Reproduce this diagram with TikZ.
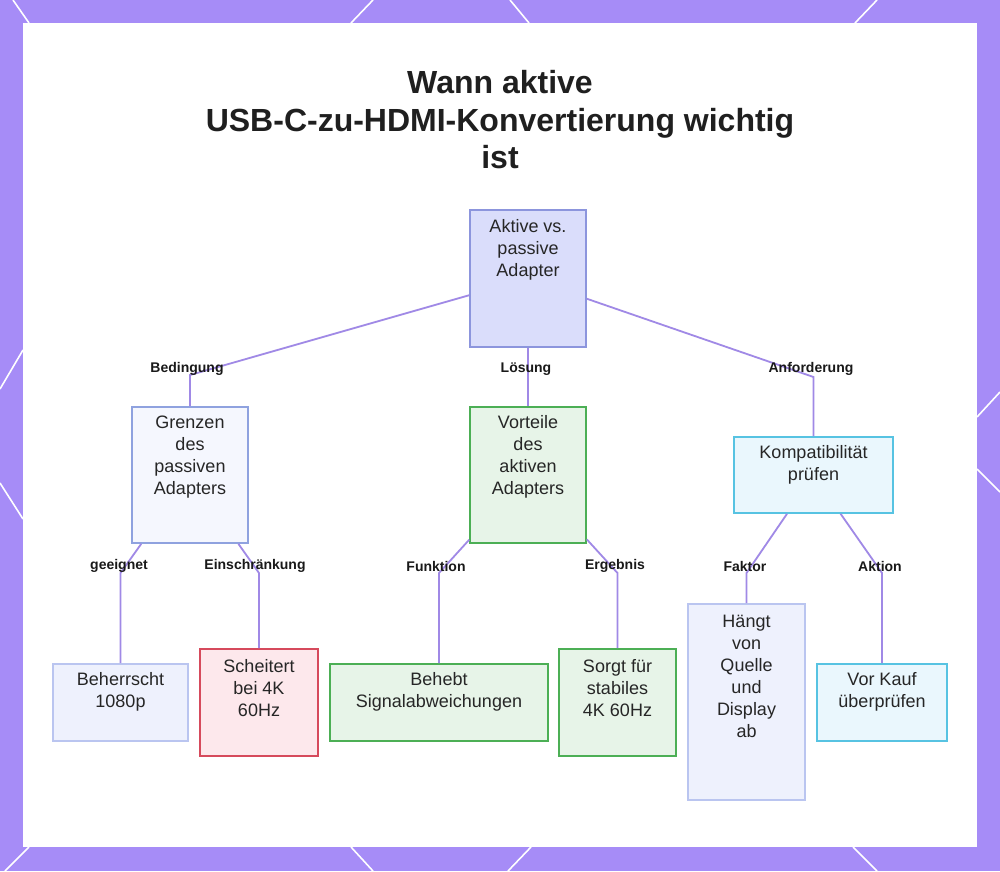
\documentclass[tikz,border=0pt]{standalone}
\usepackage{fontspec}
\setmainfont{Liberation Sans}
\definecolor{bgpurple}{HTML}{A68CF7}
\definecolor{edgec}{HTML}{A089E6}
\definecolor{txtc}{HTML}{262626}
\definecolor{rootfill}{HTML}{DADDFB}
\definecolor{rootdraw}{HTML}{8C95DD}
\definecolor{grenfill}{HTML}{F5F7FE}
\definecolor{grendraw}{HTML}{8FA2DF}
\definecolor{greenfill}{HTML}{E7F4E8}
\definecolor{greendraw}{HTML}{4CAF55}
\definecolor{cyanfill}{HTML}{EAF7FD}
\definecolor{cyandraw}{HTML}{57C3E2}
\definecolor{lightfill}{HTML}{EEF1FD}
\definecolor{lightdraw}{HTML}{BAC5F0}
\definecolor{redfill}{HTML}{FDE8EC}
\definecolor{reddraw}{HTML}{D64A5C}
\begin{document}
\begin{tikzpicture}[x=1pt,y=-1pt,
  deco/.style={draw=white,line width=1.6pt},
  box/.style={rectangle,inner sep=0pt,line width=1.6pt},
  txt/.style={align=center,text=txtc,font=\fontsize{18}{22}\selectfont,inner sep=0pt},
  lbl/.style={text=black!90,font=\fontsize{14}{16}\selectfont\bfseries,inner sep=0pt},
  edge/.style={draw=edgec,line width=1.8pt},
  titlef/.style={align=center,text=black!88,font=\fontsize{32}{37.5}\selectfont\bfseries,inner sep=0pt}]
\useasboundingbox (0,0) rectangle (1000,871);
\fill[bgpurple] (0,0) rectangle (1000,871);
% border lattice lines
\draw[deco] (13,0) -- (29,23);
\draw[deco] (373,0) -- (351,23);
\draw[deco] (510,0) -- (529,23);
\draw[deco] (877,0) -- (855,23);
\draw[deco] (29,847) -- (5,871);
\draw[deco] (351,847) -- (373,871);
\draw[deco] (531,847) -- (508,871);
\draw[deco] (853,847) -- (877,871);
\draw[deco] (0,389) -- (23,350);
\draw[deco] (0,483) -- (23,519);
\draw[deco] (977,417) -- (1000,392);
\draw[deco] (977,469) -- (1000,492);
\fill[white] (23,23) rectangle (977,847);
% title
\node[titlef] (title) at (500,120) {Wann aktive\\USB-C-zu-HDMI-Konvertierung wichtig\\ist};
% boxes
\node[box,fill=rootfill,draw=rootdraw,minimum width=116,minimum height=137] (root) at (528,278.5) {};
\node[box,fill=grenfill,draw=grendraw,minimum width=116,minimum height=136] (gren) at (190,475) {};
\node[box,fill=greenfill,draw=greendraw,minimum width=116,minimum height=136] (vort) at (528,475) {};
\node[box,fill=cyanfill,draw=cyandraw,minimum width=159,minimum height=76] (komp) at (813.5,475) {};
\node[box,fill=lightfill,draw=lightdraw,minimum width=135,minimum height=77] (beh) at (120.5,702.5) {};
\node[box,fill=redfill,draw=reddraw,minimum width=118,minimum height=107] (sch) at (259,702.5) {};
\node[box,fill=greenfill,draw=greendraw,minimum width=218,minimum height=77] (bsig) at (439,702.5) {};
\node[box,fill=greenfill,draw=greendraw,minimum width=117,minimum height=107] (sorgt) at (617.5,702.5) {};
\node[box,fill=lightfill,draw=lightdraw,minimum width=117,minimum height=196] (haengt) at (746.5,702) {};
\node[box,fill=cyanfill,draw=cyandraw,minimum width=130,minimum height=77] (vor) at (882,702.5) {};
% box texts
\node[txt] (rootT) at (528,250) {Aktive vs.\\passive\\Adapter};
\node[txt] (grenT) at (190,457) {Grenzen\\des\\passiven\\Adapters};
\node[txt] (vortT) at (528,457) {Vorteile\\des\\aktiven\\Adapters};
\node[txt] (kompT) at (813.5,465) {Kompatibilität\\prüfen};
\node[txt] (behT) at (120.5,692) {Beherrscht\\1080p};
\node[txt] (schT) at (259,688) {Scheitert\\bei 4K\\60Hz};
\node[txt] (bsigT) at (439,692) {Behebt\\Signalabweichungen};
\node[txt] (sorgtT) at (617.5,688) {Sorgt für\\stabiles\\4K 60Hz};
\node[txt] (haengtT) at (746.5,676) {Hängt\\von\\Quelle\\und\\Display\\ab};
\node[txt] (vorT) at (882,692) {Vor Kauf\\überprüfen};
% bend points
\coordinate (b1) at (190,375);
\coordinate (b3) at (813.5,377);
\coordinate (c1) at (120.5,573);
\coordinate (c2) at (259,573);
\coordinate (c3) at (439,573);
\coordinate (c4) at (617.5,573);
\coordinate (c5) at (746.5,573);
\coordinate (c6) at (882,573);
% connectors
\draw[edge] (root) -- (b1) -- (gren);
\draw[edge] (root) -- (vort);
\draw[edge] (root) -- (b3) -- (komp);
\draw[edge] (gren) -- (c1) -- (beh);
\draw[edge] (gren) -- (c2) -- (sch);
\draw[edge] (vort) -- (c3) -- (bsig);
\draw[edge] (vort) -- (c4) -- (sorgt);
\draw[edge] (komp) -- (c5) -- (haengt);
\draw[edge] (komp) -- (c6) -- (vor);
% connector labels
\node[lbl] (l1) at (187,369) {Bedingung};
\node[lbl] (l2) at (526,369) {Lösung};
\node[lbl] (l3) at (811,369) {Anforderung};
\node[lbl] (l4) at (119,566) {geeignet};
\node[lbl] (l5) at (255,566) {Einschränkung};
\node[lbl] (l6) at (436,566) {Funktion};
\node[lbl] (l7) at (615,566) {Ergebnis};
\node[lbl] (l8) at (745,566) {Faktor};
\node[lbl] (l9) at (880,566) {Aktion};
\end{tikzpicture}
\end{document}
